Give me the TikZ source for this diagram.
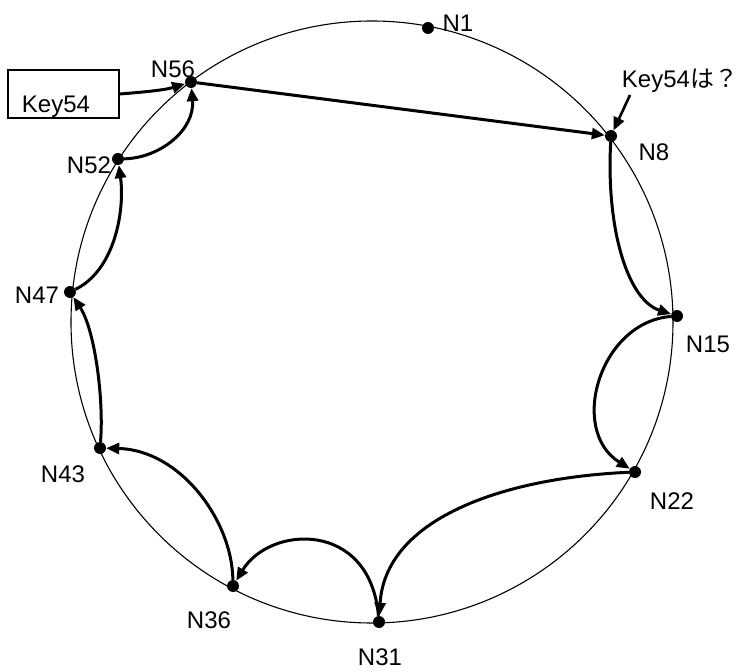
\documentclass[tikz,border=0pt]{standalone}
\usepackage{fontspec}
\setmainfont{Liberation Sans}
\newfontfamily\jpfont{Noto Sans CJK JP}
\usetikzlibrary{arrows.meta}
\begin{document}
\begin{tikzpicture}[x=1pt,y=-1pt,
  ring/.style={line width=1.1pt},
  dot/.style={circle,fill=black,inner sep=0pt,minimum size=12pt},
  lbl/.style={font=\fontsize{24}{28}\selectfont,inner sep=0pt},
  tip/.style={-{Triangle[length=13pt,width=11pt]}},
  hop/.style={line width=3pt,tip},
  keyboxstyle/.style={draw,line width=1.1pt,minimum width=111pt,minimum height=48pt,inner sep=0pt}]
\useasboundingbox (0,0) rectangle (745,671);
\draw[ring] (372,322) circle[radius=301pt];
% nodes on ring
\node[dot] (n1) at (428,28) {};
\node[dot] (n8) at (611,136) {};
\node[dot] (n15) at (677,316) {};
\node[dot] (n22) at (635,472) {};
\node[dot] (n31) at (379,622) {};
\node[dot] (n36) at (233,586) {};
\node[dot] (n43) at (100,448) {};
\node[dot] (n47) at (70,292) {};
\node[dot] (n52) at (118,159) {};
\node[dot] (n56) at (191,82) {};
% labels
\node[lbl] (l1) at (458,23) {N1};
\node[lbl] (l56) at (173,69) {N56};
\node[lbl] (l52) at (89,165) {N52};
\node[lbl] (l47) at (37,295) {N47};
\node[lbl] (l43) at (63,474) {N43};
\node[lbl] (l36) at (209,620) {N36};
\node[lbl] (l31) at (380,657) {N31};
\node[lbl] (l22) at (672,501) {N22};
\node[lbl] (l15) at (708,344) {N15};
\node[lbl] (l8) at (654,152) {N8};
\node[lbl] (lq) at (680,81) {Key54{\jpfont は？}};
% key box
\node[keyboxstyle] (keybox) at (63.5,94) {};
\node[lbl] (keytext) at (56,107) {Key54};
\coordinate (qstart) at (630,95);
% connectors
\draw[hop] (keybox.east) .. controls (145,92) and (165,90) .. (n56);
\draw[hop] (n56) -- (n8);
\draw[line width=2.6pt,tip] (qstart) -- (n8);
\draw[hop] (n8) .. controls (606,230) and (628,300) .. (n15);
\draw[hop] (n15) .. controls (600,322) and (568,430) .. (n22);
\draw[hop] (n22) .. controls (500,478) and (385,520) .. (n31);
\draw[hop] (n31) .. controls (370,520) and (270,525) .. (n36);
\draw[hop] (n36) .. controls (232,520) and (180,450) .. (n43);
\draw[hop] (n43) .. controls (104,400) and (95,330) .. (n47);
\draw[hop] (n47) .. controls (115,270) and (125,210) .. (n52);
\draw[hop] (n52) .. controls (160,158) and (195,130) .. (n56);
\end{tikzpicture}
\end{document}
